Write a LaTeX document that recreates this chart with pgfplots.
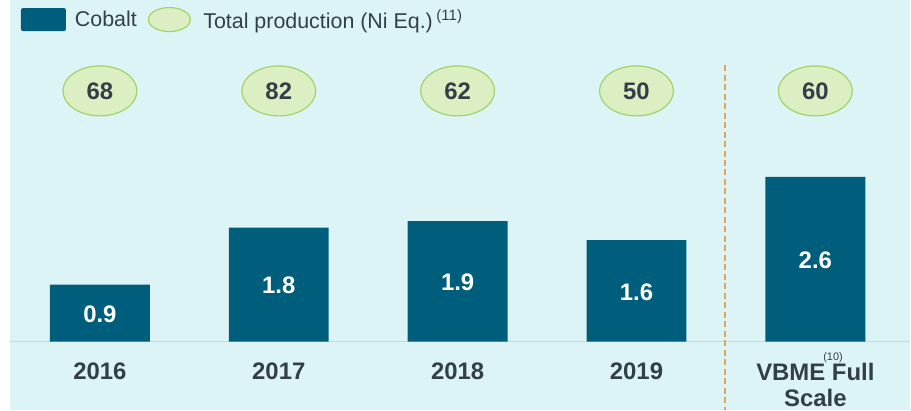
\documentclass[border=0pt]{standalone}
\usepackage{fontspec}
\setmainfont{Liberation Sans}
\usepackage{pgfplots}
\pgfplotsset{compat=1.18}
\usetikzlibrary{shapes.geometric}
\definecolor{cobalt}{RGB}{0,94,125}
\definecolor{bgc}{RGB}{221,244,247}
\definecolor{ellf}{RGB}{220,239,195}
\definecolor{elld}{RGB}{160,212,104}
\definecolor{txt}{RGB}{51,63,72}
\definecolor{dashc}{RGB}{226,165,82}
\definecolor{basec}{RGB}{208,212,214}
\begin{document}
\begin{tikzpicture}
\begin{axis}[
  scale only axis, width=911bp, height=410bp,
  xmin=-0.5587, xmax=4.5307, ymin=-1.0709, ymax=5.3858,
  axis x line=middle, axis y line=none,
  x axis line style={draw=none},
  axis background/.style={fill=bgc},
  xtick={0,1,2,3,4}, ytick=\empty, major tick length=0pt,
  xticklabels={2016,2017,2018,2019,{VBME\rlap{\kern-2bp\raisebox{0.85em}[0pt][0pt]{\fontsize{11}{11}\selectfont\mdseries(10)}} Full\\Scale}},
  xticklabel style={font=\fontsize{24}{26}\selectfont\bfseries, text=txt, align=center, anchor=north, yshift=-18bp},
  clip=false,
  /pgf/number format/assume math mode=true,
  legend style={at={(rel axis cs:21/911,1-7/410)}, anchor=north west, draw=none, fill=none,
    inner sep=0pt, outer sep=0pt, font=\fontsize{21.5}{24}\selectfont, text=txt,
    nodes={inner sep=0pt},
    /tikz/every odd column/.append style={column sep=9bp},
    /tikz/every even column/.append style={column sep=11bp}},
  legend columns=2, legend cell align=left,
]
\fill[white] (rel axis cs:0,0) rectangle (rel axis cs:10/911,1);
\draw[basec, line width=1.5bp] (axis cs:-0.5028,0) -- (axis cs:4.5307,0);
\draw[dashc, line width=1.8bp, dash pattern=on 6bp off 3.5bp] (axis cs:3.497,4.36) -- (axis cs:3.497,-1.0709);
\addplot[ybar, bar width=100bp, bar shift=0pt, fill=cobalt, draw=none,
  point meta=y,
  nodes near coords={\pgfmathprintnumber[fixed,precision=1,fixed zerofill]{\pgfplotspointmeta}},
  visualization depends on=y \as \rawy,
  every node near coord/.append style={anchor=center, shift={(axis direction cs:0,-\rawy/2)}, yshift=-1bp, text=white, font=\fontsize{24}{26}\selectfont\bfseries},
  legend image code/.code={\fill[cobalt, rounded corners=2bp] (0bp,-11.5bp) rectangle (45bp,11.5bp);}
] coordinates {(0,0.9) (1,1.8) (2,1.9) (3,1.6) (4,2.6)};
\addlegendentry{Cobalt}
\addplot[draw=none, mark=none, point meta=explicit symbolic, nodes near coords,
  every node near coord/.append style={anchor=center, ellipse, draw=elld, fill=ellf, line width=1.2bp,
    minimum width=74bp, minimum height=50bp, inner sep=0pt, text=txt, font=\fontsize{24}{26}\selectfont\bfseries},
  legend image code/.code={\path[draw=elld, fill=ellf, line width=1.2bp] (21bp,0bp) ellipse [x radius=21bp, y radius=12bp]; \path (46bp,0bp);}
] coordinates {(0,3.953) [68] (1,3.953) [82] (2,3.953) [62] (3,3.953) [50] (4,3.953) [60]};
\addlegendentry{Total production (Ni Eq.)\,\textsuperscript{(11)}}
\end{axis}
\end{tikzpicture}
\end{document}
